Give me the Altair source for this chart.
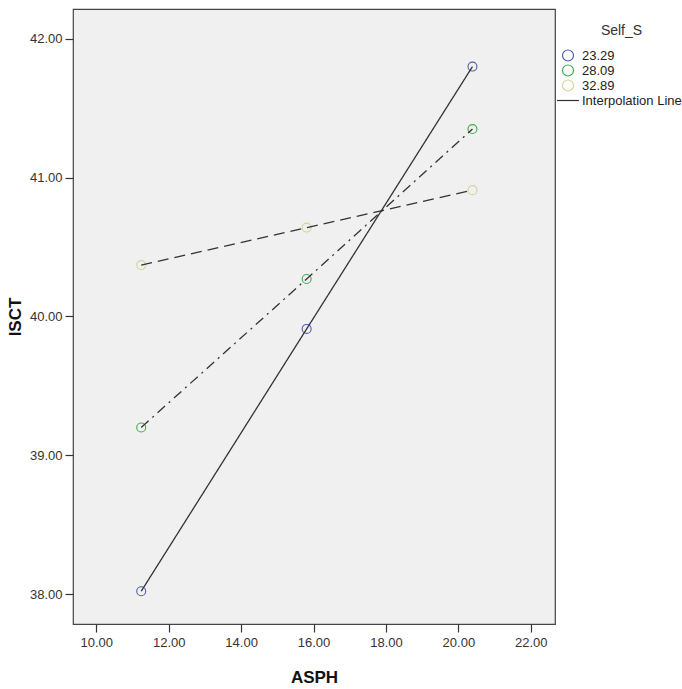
import altair as alt
import pandas as pd

# Values
asph = [11.24, 15.81, 20.39]
groups = ["23.29", "28.09", "32.89"]
isct_2329 = [38.02, 39.91, 41.80]
isct_2809 = [39.20, 40.27, 41.35]
isct_3289 = [40.37, 40.64, 40.91]
x_ticks = [10, 12, 14, 16, 18, 20, 22]
y_ticks = [38, 39, 40, 41, 42]

legend_items = groups + ["Interpolation Line"]
colors = ["#4a5fb0", "#3cae50", "#d4d39c", "#333333"]
shapes = ["circle", "circle", "circle", "M-2,0H2"]
dashes = [[1, 0], [10, 5, 2, 5], [11, 6]]

rows = []
for g, ys in zip(groups, [isct_2329, isct_2809, isct_3289]):
    for x, y in zip(asph, ys):
        rows.append({"ASPH": x, "ISCT": y, "Self_S": g})
df = pd.DataFrame(rows)

FONT = "Liberation Sans"

xscale = alt.Scale(domain=[9.356, 22.67], nice=False, zero=False)
yscale = alt.Scale(domain=[37.784, 42.215], nice=False, zero=False)

xaxis = alt.Axis(values=x_ticks, format=".2f", title="ASPH", grid=False, domain=False,
                 tickColor="#333333", tickSize=8, tickWidth=1.2, labelColor="#333333",
                 labelFontSize=13, labelFont=FONT, labelPadding=4,
                 titleFont=FONT, titleFontSize=17, titleFontWeight="bold",
                 titleColor="#111111", titlePadding=20)
yaxis = alt.Axis(values=y_ticks, format=".2f", title="ISCT", grid=False, domain=False,
                 tickColor="#333333", tickSize=8, tickWidth=1.2, labelColor="#333333",
                 labelFontSize=13, labelFont=FONT, labelPadding=3,
                 titleFont=FONT, titleFontSize=17, titleFontWeight="bold",
                 titleColor="#111111", titlePadding=5)

legend = alt.Legend(title="Self_S", orient="none", legendX=488.5, legendY=15,
                    titleFont=FONT, titleFontSize=14, titleFontWeight="normal",
                    titleColor="#333333", titleAnchor="middle", titlePadding=11,
                    labelFont=FONT, labelFontSize=13, labelColor="#222222",
                    symbolSize=121, symbolStrokeWidth=1.2, labelOffset=7.5,
                    rowPadding=-2)

points = alt.Chart(df).mark_point(filled=False, size=80, strokeWidth=1.1, opacity=1).encode(
    x=alt.X("ASPH:Q", scale=xscale, axis=xaxis),
    y=alt.Y("ISCT:Q", scale=yscale, axis=yaxis),
    color=alt.Color("Self_S:N", scale=alt.Scale(domain=legend_items, range=colors), legend=legend),
    shape=alt.Shape("Self_S:N", scale=alt.Scale(domain=legend_items, range=shapes), legend=legend),
)

lines = alt.Chart(df).mark_line(color="#333333", strokeWidth=1.3).encode(
    x=alt.X("ASPH:Q", scale=xscale, axis=xaxis),
    y=alt.Y("ISCT:Q", scale=yscale, axis=yaxis),
    detail="Self_S:N",
    strokeDash=alt.StrokeDash("Self_S:N", scale=alt.Scale(domain=groups, range=dashes), legend=None),
)

chart = alt.layer(points, lines).properties(
    width=482, height=615,
    padding={"left": 73, "top": 9, "right": 127, "bottom": 65},
    autosize="none",
    background="white",
).configure_view(fill="#f0f0f0", stroke="#444444", strokeWidth=1.2)

chart.save("out.html", embed_options={"renderer": "svg", "actions": False})
